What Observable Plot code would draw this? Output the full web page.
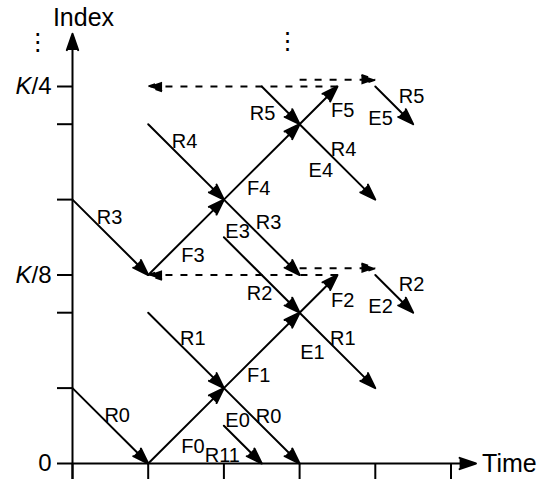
<!DOCTYPE html>
<html><head><meta charset="utf-8">
<script src="https://cdn.jsdelivr.net/npm/d3@7"></script>
<script src="https://cdn.jsdelivr.net/npm/@observablehq/plot@0.6"></script>
<style>
html,body{margin:0;padding:0;background:#fff;}
svg{display:block;}
</style>
</head><body><div id="chart"></div>
<script>
// Diagram data (time units on x, index units on y)
const xTickValues = [0, 1, 2, 3, 4, 5];
const yTickValues = [0, 1, 2, 2.5, 3.5, 4.5, 5];
const yTickLabels = ["0", "", "", "K/8", "", "", "K/4"];

const axisArrows = [
  {x1: 0, y1: -0.21, x2: 0, y2: 5.7},
  {x1: 0, y1: 0, x2: 5.33, y2: 0}
];

const solidSegments = [
  {x1: 0, y1: 1, x2: 1, y2: 0},
  {x1: 1, y1: 0, x2: 2, y2: 1},
  {x1: 2, y1: 1, x2: 3, y2: 2},
  {x1: 3, y1: 2, x2: 3.5, y2: 2.5},
  {x1: 1, y1: 2, x2: 2, y2: 1},
  {x1: 2, y1: 1, x2: 3, y2: 0},
  {x1: 2, y1: 0.5, x2: 2.5, y2: 0},
  {x1: 2, y1: 3, x2: 3, y2: 2},
  {x1: 3, y1: 2, x2: 4, y2: 1},
  {x1: 0, y1: 3.5, x2: 1, y2: 2.5},
  {x1: 1, y1: 2.5, x2: 2, y2: 3.5},
  {x1: 2, y1: 3.5, x2: 3, y2: 4.5},
  {x1: 3, y1: 4.5, x2: 3.5, y2: 5},
  {x1: 1, y1: 4.5, x2: 2, y2: 3.5},
  {x1: 2, y1: 3.5, x2: 3, y2: 2.5},
  {x1: 2.5, y1: 5, x2: 3, y2: 4.5},
  {x1: 3, y1: 4.5, x2: 4, y2: 3.5},
  {x1: 4, y1: 5, x2: 4.5, y2: 4.5},
  {x1: 4, y1: 2.5, x2: 4.5, y2: 2}
];

const dashedSegments = [
  {x1: 3.5, y1: 5, x2: 1, y2: 5},
  {x1: 3, y1: 5.09, x2: 4, y2: 5.09},
  {x1: 3.5, y1: 2.5, x2: 1, y2: 2.5},
  {x1: 3, y1: 2.59, x2: 4, y2: 2.59}
];

const labelText = ["R0","F0","R11","E0","R0","F1","R1","F3","R2","E1","R1","F2","E2","R2",
                   "R3","R4","F4","R5","E3","R3","F5","E5","R5","R4","E4"];
const labelX = [0.59,1.59,1.98,2.18,2.59,2.46,1.59,1.59,2.47,3.17,3.57,3.57,4.07,4.48,
                0.49,1.48,2.46,2.51,2.18,2.59,3.57,4.07,4.48,3.58,3.28];
const labelY = [0.64,0.23,0.11,0.57,0.62,1.17,1.66,2.76,2.26,1.47,1.66,2.16,2.08,2.37,
                3.26,4.27,3.65,4.64,3.08,3.20,4.68,4.58,4.87,4.16,3.89];
const labels = labelText.map((t, i) => ({text: t, x: labelX[i], y: labelY[i]}));

const ellipses = [{x: -0.46, y: 5.58}, {x: 2.84, y: 5.6}];
const axisTitles = [
  {text: "Index", x: 0.145, y: 5.915, anchor: "middle"},
  {text: "Time", x: 5.41, y: 0, anchor: "start"}
];

const font = "'Liberation Sans', Arial, sans-serif";
const arrowOpts = {x1: "x1", y1: "y1", x2: "x2", y2: "y2", stroke: "black", fill: "black", strokeWidth: 2, headAngle: 38};

const svg = Plot.plot({
  width: 547, height: 479,
  marginLeft: 72, marginBottom: 16, marginTop: 0, marginRight: 0,
  x: {domain: [0, 6], range: [72, 72 + 6 * 75.7]},
  y: {domain: [0, 6], range: [463, 463 - 6 * 75.4]},
  style: {fontFamily: font, color: "black", background: "white", overflow: "visible"},
  marks: [
    Plot.axisY({ticks: yTickValues, tickSize: 15, tickPadding: 6, strokeWidth: 2,
      tickFormat: (d) => yTickLabels[yTickValues.indexOf(d)], fontSize: 24, label: null}),
    Plot.axisX({ticks: xTickValues, tickSize: 16, strokeWidth: 2, tickFormat: () => "", label: null}),
    Plot.arrow(axisArrows, {...arrowOpts, headLength: 13}),
    Plot.arrow(solidSegments, {...arrowOpts, headLength: 12.5}),
    Plot.arrow(dashedSegments, {...arrowOpts, headLength: 11, strokeDasharray: "7,8", strokeLinecap: "butt"}),
    Plot.text(labels, {x: "x", y: "y", text: "text", fontSize: 20, fill: "black"}),
    Plot.text(ellipses, {x: "x", y: "y", text: () => "\u22EE", fontSize: 24, fontFamily: "DejaVu Sans", fill: "black"}),
    Plot.text(axisTitles, {x: "x", y: "y", text: "text", textAnchor: "start", fontSize: 25, fill: "black",
      filter: (d) => d.anchor === "start"}),
    Plot.text(axisTitles, {x: "x", y: "y", text: "text", fontSize: 25, fill: "black",
      filter: (d) => d.anchor === "middle"})
  ]
});

// italicise the K in K/8 and K/4
svg.querySelectorAll("text").forEach((t) => {
  const s = t.textContent;
  if (/^K\/\d$/.test(s)) {
    t.textContent = "";
    const k = document.createElementNS("http://www.w3.org/2000/svg", "tspan");
    k.setAttribute("font-style", "italic");
    k.textContent = "K";
    const rest = document.createElementNS("http://www.w3.org/2000/svg", "tspan");
    rest.textContent = s.slice(1);
    t.appendChild(k); t.appendChild(rest);
  }
});
document.getElementById("chart").appendChild(svg);
</script>
</body></html>
